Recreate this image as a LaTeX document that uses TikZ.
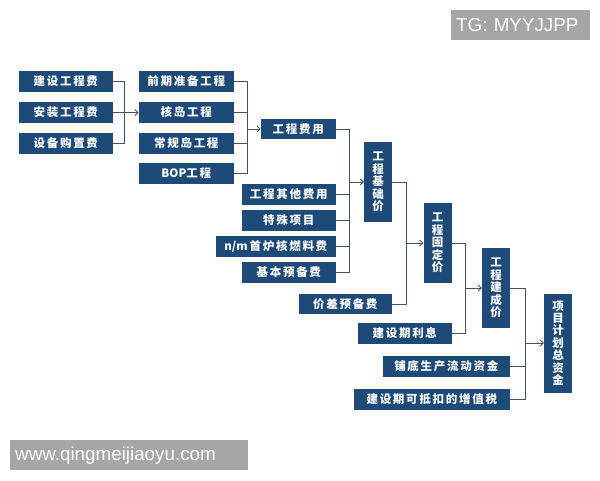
\documentclass[tikz,border=0pt]{standalone}
\usepackage{fontspec}
\usepackage{tikz}
\usetikzlibrary{arrows.meta, positioning}
\newfontfamily\cjk[LetterSpace=15]{Noto Sans CJK SC}
\newfontfamily\cjklat{Noto Sans CJK SC}
\newfontfamily\markfont{Liberation Sans}
\definecolor{boxblue}{HTML}{1E4A78}
\definecolor{linkgray}{HTML}{47505B}
\definecolor{stampgray}{HTML}{A6A6A6}

\tikzset{
  costbox/.style = {fill=boxblue, text=white, anchor=east, inner sep=0pt,
                    minimum height=20.5pt, font=\cjk\bfseries\fontsize{11.5}{12}\selectfont},
  vbox/.style = {costbox, anchor=center, minimum width=28pt, align=center,
                 font=\cjk\bfseries\fontsize{11.5}{12.4}\selectfont},
  link/.style = {draw=linkgray, line width=0.9pt},
  elbow/.style = {to path={-| (\tikztotarget)}},
  flow/.style = {-{Straight Barb[length=3pt,width=6pt]}},
  stamp/.style = {fill=stampgray, text=white, inner xsep=5pt, inner ysep=0pt,
                  minimum height=30pt, align=left, font=\markfont\fontsize{18.8}{20}\selectfont},
}

\begin{document}
\begin{tikzpicture} [x=1pt, y=-1pt, node distance = 31pt, on grid]
        \useasboundingbox (0,0) rectangle (600,480);

        % first column
        \node (build) [costbox, minimum width=94pt] at (113,81.5) {建设工程费};
        \node (install) [costbox, minimum width=94pt, below = of build.east, anchor=east] {安装工程费};
        \node (equip) [costbox, minimum width=94pt, below = of install.east, anchor=east] {设备购置费};

        % second column
        \node (prep) [costbox, minimum width=95pt] at (234,81.5) {前期准备工程};
        \node (nuclear) [costbox, minimum width=95pt, below = of prep.east, anchor=east] {核岛工程};
        \node (conv) [costbox, minimum width=95pt, below = of nuclear.east, anchor=east] {常规岛工程};
        \node (bop) [costbox, minimum width=95pt, below = 30pt of conv.east, anchor=east] {{\cjklat BOP}工程};

        % third column
        \node (engcost) [costbox, minimum width=75pt] at (336,129) {工程费用};
        \node (other) [costbox, minimum width=94pt] at (336,194.5) {工程其他费用};
        \node (special) [costbox, minimum width=94pt, below = 26pt of other.east, anchor=east] {特殊项目};
        \node (fuel) [costbox, minimum width=120pt, below = 26pt of special.east, anchor=east] {{\cjklat n/m\,}首炉核燃料费};
        \node (reserve) [costbox, minimum width=94pt, below = 26pt of fuel.east, anchor=east] {基本预备费};

        % stages
        \node (base) [vbox, minimum height=80pt] at (378,182) {工\\程\\基\\础\\价};
        \node (pricediff) [costbox, minimum width=93pt] at (392,304) {价差预备费};
        \node (fixed) [vbox, minimum height=80pt] at (437.5,243) {工\\程\\固\\定\\价};
        \node (interest) [costbox, minimum width=94pt] at (452,333.5) {建设期利息};
        \node (built) [vbox, minimum height=80pt] at (496,288) {工\\程\\建\\成\\价};
        \node (working) [costbox, minimum width=127pt] at (510,366.5) {铺底生产流动资金};
        \node (vat) [costbox, minimum width=156pt] at (510,399.5) {建设期可抵扣的增值税};
        \node (total) [vbox, minimum height=99pt] at (558,343) {项\\目\\计\\划\\总\\资\\金};

        % junctions
        \coordinate (j1) at (124,112.5);
        \coordinate (j2) at (247,129);
        \coordinate (j3) at (349,182);
        \coordinate (j4) at (406,243);
        \coordinate (j5) at (465,288);
        \coordinate (j6) at (525,343);

        \path [link]
          (build.east) edge [elbow] (j1)
          (install.east) edge [elbow] (j1)
          (equip.east) edge [elbow] (j1)
          (j1) edge [flow] (nuclear.west)

          (prep.east) edge [elbow] (j2)
          (nuclear.east) edge [elbow] (j2)
          (conv.east) edge [elbow] (j2)
          (bop.east) edge [elbow] (j2)
          (j2) edge [flow] (engcost.west)

          (engcost.east) edge [elbow] (j3)
          (other.east) edge [elbow] (j3)
          (special.east) edge [elbow] (j3)
          (fuel.east) edge [elbow] (j3)
          (reserve.east) edge [elbow] (j3)
          (j3) edge [flow] (base.west)

          (base.east) edge [elbow] (j4)
          (pricediff.east) edge [elbow] (j4)
          (j4) edge [flow] (fixed.west)

          (fixed.east) edge [elbow] (j5)
          (interest.east) edge [elbow] (j5)
          (j5) edge [flow] (built.west)

          (built.east) edge [elbow] (j6)
          (working.east) edge [elbow] (j6)
          (vat.east) edge [elbow] (j6)
          (j6) edge [flow] (total.west);

        % watermarks
        \node (tg) [stamp, text width=129pt, anchor=north west] at (451,10) {TG: MYYJJPP};
        \node (site) [stamp, text width=228pt, anchor=north west] at (10,440) {www.qingmeijiaoyu.com};
    \end{tikzpicture}
\end{document}
